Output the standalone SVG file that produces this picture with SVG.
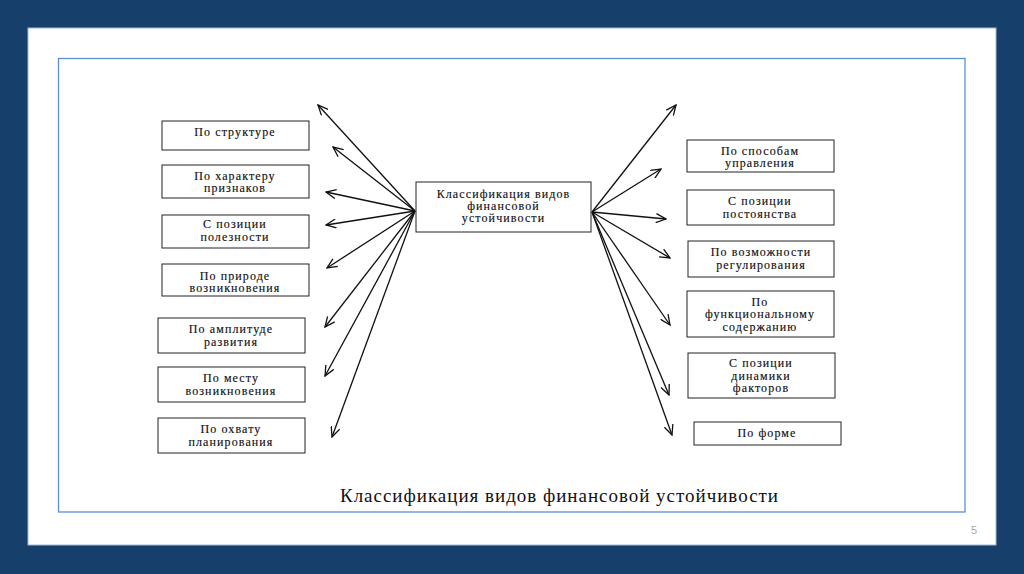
<svg xmlns="http://www.w3.org/2000/svg" width="1024" height="574" viewBox="0 0 1024 574">
<defs>
<style>
.box{fill:#fff;stroke:#222;stroke-width:1}
.t{font-family:"Liberation Serif","Times New Roman",serif;font-size:12px;letter-spacing:1.1px;fill:#111;stroke:#111;stroke-width:0.15;text-anchor:middle}
.ln{stroke:#111;stroke-width:1.3;fill:none;marker-end:url(#ah)}
</style>
<marker id="ah" viewBox="0 0 12 10" refX="11" refY="5" markerWidth="12" markerHeight="10" markerUnits="userSpaceOnUse" orient="auto">
<path d="M1,0.5 L11,5 L1,9.5" fill="none" stroke="#111" stroke-width="1.3"/>
</marker>
</defs>
<rect x="0" y="0" width="1024" height="574" fill="#163f6b"/>
<rect x="28" y="28" width="968" height="517" fill="#fff" stroke="#9fb8d8" stroke-width="1"/>
<rect x="58.5" y="58.5" width="906.5" height="453.5" fill="#fff" stroke="#5b8fd0" stroke-width="1.3"/>
<g id="connectors">
<line class="ln" x1="415" y1="211" x2="318" y2="105"/>
<line class="ln" x1="415" y1="211" x2="333" y2="147"/>
<line class="ln" x1="415" y1="211" x2="326" y2="192"/>
<line class="ln" x1="415" y1="211" x2="326" y2="225"/>
<line class="ln" x1="415" y1="211" x2="327" y2="268"/>
<line class="ln" x1="415" y1="211" x2="325" y2="327"/>
<line class="ln" x1="415" y1="211" x2="325" y2="376"/>
<line class="ln" x1="415" y1="211" x2="332" y2="437"/>
<line class="ln" x1="592" y1="212" x2="676" y2="105"/>
<line class="ln" x1="592" y1="212" x2="661" y2="169"/>
<line class="ln" x1="592" y1="212" x2="666" y2="219"/>
<line class="ln" x1="592" y1="212" x2="670" y2="258"/>
<line class="ln" x1="592" y1="212" x2="670" y2="325"/>
<line class="ln" x1="592" y1="212" x2="669" y2="395"/>
<line class="ln" x1="592" y1="212" x2="672" y2="435"/>
</g>
<g id="center">
<rect class="box" x="416" y="182" width="175" height="50"/>
<text class="t" x="503.5" y="198">Классификация видов</text>
<text class="t" x="503.5" y="210">финансовой</text>
<text class="t" x="503.5" y="222">устойчивости</text>
</g>
<g id="l1"><rect class="box" x="162" y="121" width="147" height="29"/><text class="t" x="235" y="136">По структуре</text></g>
<g id="l2"><rect class="box" x="162" y="165" width="147" height="33"/><text class="t" x="235" y="180">По характеру</text><text class="t" x="235" y="192">признаков</text></g>
<g id="l3"><rect class="box" x="162" y="215" width="147" height="33"/><text class="t" x="235" y="228">С позиции</text><text class="t" x="235" y="241">полезности</text></g>
<g id="l4"><rect class="box" x="162" y="264" width="147" height="32"/><text class="t" x="235" y="280">По природе</text><text class="t" x="235" y="292">возникновения</text></g>
<g id="l5"><rect class="box" x="158" y="318" width="147" height="35"/><text class="t" x="231" y="333">По амплитуде</text><text class="t" x="231" y="346">развития</text></g>
<g id="l6"><rect class="box" x="158" y="367" width="147" height="35"/><text class="t" x="231" y="382">По месту</text><text class="t" x="231" y="394.5">возникновения</text></g>
<g id="l7"><rect class="box" x="158" y="418" width="147" height="35"/><text class="t" x="231" y="433">По охвату</text><text class="t" x="231" y="446">планирования</text></g>
<g id="r1"><rect class="box" x="687" y="140" width="147" height="32"/><text class="t" x="760" y="155">По способам</text><text class="t" x="760" y="167">управления</text></g>
<g id="r2"><rect class="box" x="687" y="190" width="147" height="35"/><text class="t" x="760" y="205">С позиции</text><text class="t" x="760" y="217.5">постоянства</text></g>
<g id="r3"><rect class="box" x="688" y="241" width="146" height="36"/><text class="t" x="761" y="256">По возможности</text><text class="t" x="761" y="268.5">регулирования</text></g>
<g id="r4"><rect class="box" x="687" y="291" width="147" height="46"/><text class="t" x="760" y="306">По</text><text class="t" x="760" y="318">функциональному</text><text class="t" x="760" y="330.5">содержанию</text></g>
<g id="r5"><rect class="box" x="688" y="353" width="147" height="45"/><text class="t" x="761" y="367">С позиции</text><text class="t" x="761" y="379.5">динамики</text><text class="t" x="761" y="392">факторов</text></g>
<g id="r6"><rect class="box" x="694" y="422" width="147" height="23"/><text class="t" x="767" y="437">По форме</text></g>
<text x="340" y="502" textLength="438" lengthAdjust="spacing" font-family="'Liberation Serif','Times New Roman',serif" font-size="19" fill="#111">Классификация видов финансовой устойчивости</text>
<text x="974" y="534" font-family="'Liberation Sans',Arial,sans-serif" font-size="11" fill="#aaa" text-anchor="middle">5</text>
</svg>
